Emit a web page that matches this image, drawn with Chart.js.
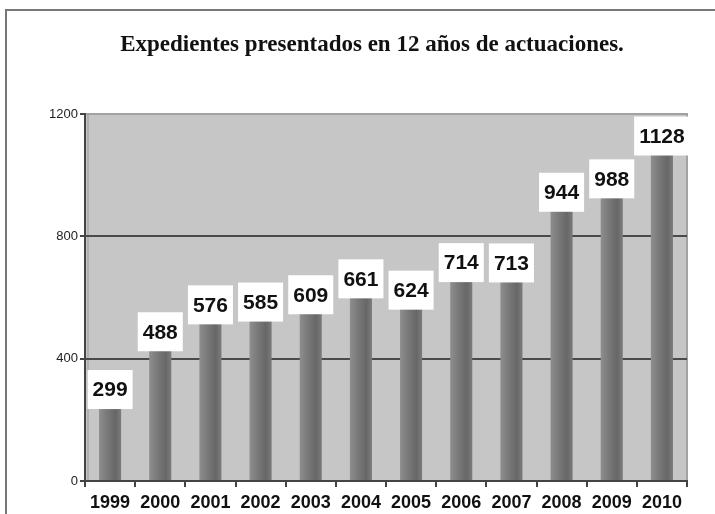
<!DOCTYPE html>
<html><head><meta charset="utf-8">
<script src="https://cdn.jsdelivr.net/npm/chart.js@4/dist/chart.umd.min.js"></script>
<style>
html,body{margin:0;padding:0;background:#fff;overflow:hidden;}
canvas{display:block;}
</style></head>
<body>
<canvas id="c" width="715" height="514"></canvas>
<script>
const years = ['1999','2000','2001','2002','2003','2004','2005','2006','2007','2008','2009','2010'];
const expedientes = [299,488,576,585,609,661,624,714,713,944,988,1128];
const yTicks = [0,400,800,1200];
const titleText = 'Expedientes presentados en 12 años de actuaciones.';

const bgPlugin = {
  id:'bg',
  beforeDraw(chart){
    const {ctx, chartArea:a} = chart;
    ctx.save();
    ctx.strokeStyle='#777';ctx.lineWidth=2;
    ctx.beginPath();ctx.moveTo(6,514);ctx.lineTo(6,10);ctx.lineTo(715,10);ctx.stroke();
    ctx.fillStyle='#c6c6c6';
    ctx.fillRect(a.left,a.top,a.right-a.left,a.bottom-a.top);
    ctx.strokeStyle='#a2a2a2';ctx.lineWidth=2;
    ctx.beginPath();ctx.moveTo(a.left,a.top);ctx.lineTo(a.right,a.top);ctx.lineTo(a.right,a.bottom);ctx.stroke();
    ctx.strokeStyle='#9a9a9a';ctx.lineWidth=1;
    ctx.beginPath();ctx.moveTo(a.left+3,a.top);ctx.lineTo(a.left+3,a.bottom);ctx.stroke();
    ctx.restore();
    ctx.save();
    ctx.font='bold 23px "Liberation Serif", "Times New Roman", serif';
    ctx.fillStyle='#111';ctx.textAlign='center';ctx.textBaseline='middle';
    ctx.fillText(titleText,372,45);
    ctx.restore();
  }
};
const labelPlugin = {
  id:'lbl',
  afterDatasetsDraw(chart){
    const {ctx} = chart;
    const meta = chart.getDatasetMeta(0);
    ctx.save();
    ctx.font='bold 21px "Liberation Sans", Arial, sans-serif';
    ctx.textAlign='center';ctx.textBaseline='middle';
    meta.data.forEach((el,i)=>{
      const t = String(expedientes[i]);
      const w = ctx.measureText(t).width + 10;
      const h = 39;
      ctx.fillStyle='#fff';
      ctx.fillRect(el.x - w/2, el.y - h/2, w, h);
      ctx.fillStyle='#111';
      ctx.fillText(t, el.x, el.y+1);
    });
    ctx.restore();
  }
};

new Chart(document.getElementById('c'),{
  type:'bar',
  data:{labels:years,datasets:[{
    data:expedientes,
    backgroundColor(ctx){
      const ch = ctx.chart;
      if(!ch.chartArea || !ch.scales.x) return '#747474';
      const x = ch.scales.x.getPixelForValue(ctx.dataIndex);
      const g = ch.ctx.createLinearGradient(x-11,0,x+11,0);
      g.addColorStop(0,'#8e8e8e');
      g.addColorStop(0.35,'#7a7a7a');
      g.addColorStop(0.75,'#676767');
      g.addColorStop(1,'#7c7c7c');
      return g;
    },
    borderWidth:0,
    barPercentage:0.44,categoryPercentage:1
  }]},
  options:{
    responsive:false,animation:false,devicePixelRatio:1,
    layout:{padding:{left:0,right:28,top:114,bottom:0}},
    plugins:{legend:{display:false},tooltip:{enabled:false},title:{display:false}},
    scales:{
      x:{
        grid:{offset:true,drawOnChartArea:false,drawTicks:true,tickLength:6,color:'#444',lineWidth:2},
        border:{color:'#444',width:2},
        ticks:{color:'#111',font:{family:'"Liberation Sans", Arial, sans-serif',size:18,weight:'bold'},padding:5,maxRotation:0},
        afterFit(s){s.height=33;}
      },
      y:{
        min:0,max:1200,
        afterBuildTicks(s){s.ticks=yTicks.map(v=>({value:v}));},
        grid:{
          color(c){return c.tick && (c.tick.value===400||c.tick.value===800)?'#4a4a4a':(c.tick&&c.tick.value===1200?'#a2a2a2':'rgba(0,0,0,0)');},
          lineWidth:2,tickLength:5,tickColor:'#444',drawTicks:true
        },
        border:{color:'#444',width:2},
        ticks:{color:'#222',font:{family:'"Liberation Sans", Arial, sans-serif',size:13},padding:2,callback:(v)=>String(v)},
        afterFit(s){s.width=85;}
      }
    }
  },
  plugins:[bgPlugin,labelPlugin]
});
</script>
</body></html>
